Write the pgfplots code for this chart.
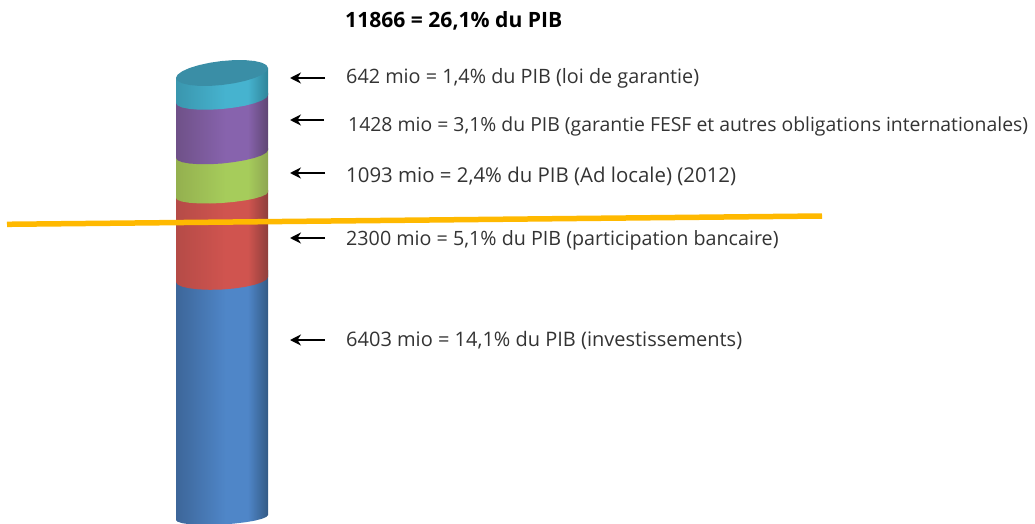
\documentclass[border=0pt]{standalone}
\usepackage{fontspec}
\usepackage{pgfplots}
\usetikzlibrary{arrows.meta}
\pgfplotsset{compat=1.18}
\setmainfont{Open Sans}
\definecolor{txt}{HTML}{333333}
\definecolor{orangeline}{HTML}{FFB900}
\definecolor{capcol}{HTML}{3A8EA6}
% left, middle, right colour of each band of the column
\newcommand{\cyl}[4]{%
  \definecolor{#1L}{HTML}{#2}\definecolor{#1M}{HTML}{#3}\definecolor{#1R}{HTML}{#4}%
  \pgfdeclarehorizontalshading{#1}{100bp}{color(0bp)=(#1L);color(25bp)=(#1L);color(52bp)=(#1M);color(64bp)=(#1M);color(75bp)=(#1R);color(100bp)=(#1R)}}
\cyl{cblue}{3D6699}{4F86C8}{335A85}
\cyl{cred}{B54B47}{D0544F}{8E3F3C}
\cyl{cgreen}{94B04F}{A6CC5B}{8EA652}
\cyl{cpurple}{6F5188}{8763AD}{5F4673}
\cyl{ccyan}{3A96AE}{46B3CF}{2F8499}
\tikzset{lab/.style={anchor=west, inner sep=0pt, text=txt, font=\fontsize{#1}{22}\selectfont},
  arr/.style={black, line width=2.4pt, -{Stealth[length=11pt,width=11pt]}}}
\begin{document}
\begin{tikzpicture}
\path[use as bounding box] (0,0) rectangle (1035pt,524pt);
\begin{axis}[
    hide axis,
    scale only axis,
    width=1035pt, height=524pt,
    xmin=0, xmax=1035,
    ymin=0, ymax=524,
    y dir=reverse,
]
% bands, bottom first: each one covers the top of the band under it
\addplot[shading=cblue, draw=none] coordinates {
    (176,270)(268,270)(268,515)(266.4,516.9)(261.8,518.8)(254.5,520.7)(245,522.3)(233.9,523.6)(222,524.5)(210.1,524.5)(199,524.4)(189.5,524.2)(182.2,523.2)(177.6,521.7)(176,520)};
\addplot[shading=cred, draw=none] coordinates {
    (176,190)(268,190)(268,277)(266.4,279.7)(261.8,282.3)(254.5,284.8)(245,286.9)(233.9,288.5)(222,289.5)(210.1,289.8)(199,289.4)(189.5,288.3)(182.2,286.7)(177.6,284.5)(176,282)};
\addplot[shading=cgreen, draw=none] coordinates {
    (176,148)(268,148)(268,192)(266.4,194.2)(261.8,196.4)(254.5,198.5)(245,200.4)(233.9,201.9)(222,203)(210.1,203.5)(199,203.4)(189.5,202.8)(182.2,201.6)(177.6,200)(176,198)};
\addplot[shading=cpurple, draw=none] coordinates {
    (176,93)(268,93)(268,150)(266.4,152.6)(261.8,155.3)(254.5,157.9)(245,160.2)(233.9,162.1)(222,163.5)(210.1,164.2)(199,164.2)(189.5,163.5)(182.2,162.2)(177.6,160.3)(176,158)};
\addplot[shading=ccyan, draw=none] coordinates {
    (176,78)(268,68)(268,95)(266.4,97.7)(261.8,100.5)(254.5,103.2)(245,105.7)(233.9,107.6)(222,109)(210.1,109.7)(199,109.7)(189.5,108.9)(182.2,107.5)(177.6,105.5)(176,103)};
% top of the column
\addplot[fill=capcol, draw=none] coordinates {
    (268,68)(266.4,65.1)(261.8,62.7)(254.5,61)(245,60.1)(233.9,60.1)(222,61)(210.1,62.7)(199,65.1)(189.5,68)(182.2,71.3)(177.6,74.7)(176,78)
    (177.6,80.9)(182.2,83.3)(189.5,85)(199,85.9)(210.1,85.9)(222,85)(233.9,83.3)(245,80.9)(254.5,78)(261.8,74.7)(266.4,71.3)};
% line across the column
\addplot[orangeline, line width=5.5pt] coordinates {(7,224.3)(822,216)};
% arrows
\addplot[arr] coordinates {(325,78)(290,78)};
\addplot[arr] coordinates {(324,120)(290,120)};
\addplot[arr] coordinates {(325,173)(290,173)};
\addplot[arr] coordinates {(325,238)(290,238)};
\addplot[arr] coordinates {(325,340)(290,340)};
% labels
\node[lab=21.1, font=\fontsize{21.1}{22}\selectfont\bfseries, text=black] at (axis cs:345,21) {11866 = 26,1\% du PIB};
\node[lab=19.8] at (axis cs:346,78) {642 mio = 1,4\% du PIB (loi de garantie)};
\node[lab=19.4] at (axis cs:348,126) {1428 mio = 3,1\% du PIB (garantie FESF et autres obligations internationales)};
\node[lab=20.4] at (axis cs:346,176) {1093 mio = 2,4\% du PIB (Ad locale) (2012)};
\node[lab=19.7] at (axis cs:346,240) {2300 mio = 5,1\% du PIB (participation bancaire)};
\node[lab=20] at (axis cs:346,340) {6403 mio = 14,1\% du PIB (investissements)};
\end{axis}
\end{tikzpicture}
\end{document}
